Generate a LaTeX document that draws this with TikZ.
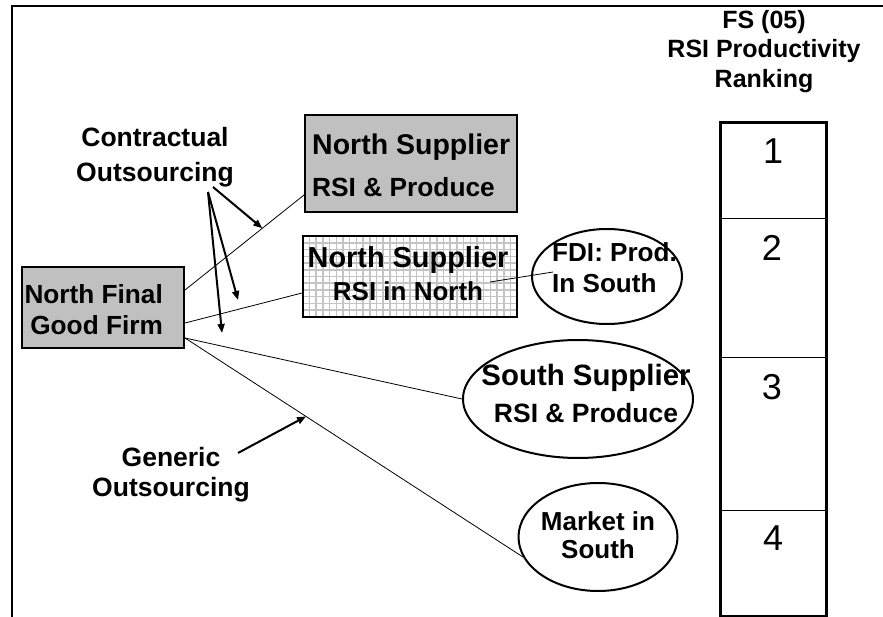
\documentclass[tikz,border=0pt]{standalone}
\usepackage{fontspec}
\setmainfont{Liberation Sans}
\usetikzlibrary{shapes.geometric,arrows.meta,calc}
\definecolor{boxgray}{RGB}{192,192,192}
\definecolor{gridgray}{RGB}{196,196,196}
\begin{document}
\begin{tikzpicture}[x=1pt,y=-1pt,
  frameline/.style={line width=2.6pt},
  conn/.style={line width=0.8pt},
  pointer/.style={line width=2pt,-{Triangle[length=9pt,width=7pt]}},
  graybox/.style={draw,line width=2pt,fill=boxgray,rectangle,inner sep=0pt},
  gridbox/.style={draw,line width=2pt,rectangle,inner sep=0pt,fill=white,
    path picture={\draw[gridgray,line width=1.5pt,step=6.7pt]
      (path picture bounding box.south west) grid (path picture bounding box.north east);}},
  oval/.style={draw,line width=2pt,ellipse,inner sep=0pt,fill=white},
  cell/.style={draw,line width=1pt,rectangle,inner sep=0pt,minimum width=105pt},
  lbl/.style={inner sep=0pt,font=\bfseries},
  num/.style={inner sep=0pt,font=\fontsize{36}{40}\selectfont},
]
\useasboundingbox (0,0) rectangle (883,617);

% frame
\draw[frameline] (12,617) -- (12,6) -- (883,6);

% shapes
\node[graybox,minimum width=162pt,minimum height=81pt] (nf) at (103,307.5) {};
\node[graybox,minimum width=212pt,minimum height=97pt] (ns1) at (411,163.5) {};
\node[gridbox,minimum width=214pt,minimum height=81pt] (ns2) at (410,276.5) {};
\node[oval,minimum width=150pt,minimum height=95pt] (fdi) at (607,276.5) {};
\node[oval,minimum width=230pt,minimum height=118pt] (ss) at (578,399) {};
\node[oval,minimum width=159pt,minimum height=108pt] (ms) at (598,537) {};

% ranking column
\node[cell,minimum height=96pt] (c1) at (773.5,171) {};
\node[cell,minimum height=138pt] (c2) at (773.5,288) {};
\node[cell,minimum height=153pt] (c3) at (773.5,433.5) {};
\node[cell,minimum height=106pt] (c4) at (773.5,563) {};
\draw[line width=2.4pt] (c1.north west) rectangle (c4.south east);

% connectors
\draw[conn] ([yshift=17.5pt]nf.east) -- ([yshift=-31.5pt]ns1.west) coordinate[pos=0.65] (p1);
\draw[conn] ([yshift=-15.5pt]nf.east) -- ([yshift=-16.5pt]ns2.west);
\draw[conn] ([yshift=-30.5pt]nf.east) -- (ss.west);
\draw[conn] ([yshift=-30.5pt]nf.east) -- (ms.195) coordinate[pos=0.358] (p4);
\draw[conn] ([shift={(-28,5.5)}]ns2.east) -- ([shift={(-54,-4.5)}]fdi.center);

% text
\node[lbl,align=center,font=\bfseries\fontsize{26.5}{35}\selectfont] (co) at (155,157.6) {Contractual\\Outsourcing};
\node[lbl,align=center,font=\bfseries\fontsize{26.5}{30}\selectfont] (go) at (171,475) {Generic\\Outsourcing};
\node[lbl,align=right,anchor=east,font=\bfseries\fontsize{26.2}{31}\selectfont] (tnf) at (163,310) {North Final\\Good Firm};
\node[lbl,align=left,anchor=west,font=\bfseries\fontsize{26.3}{42}\selectfont] (tns1) at (312,165.8) {{\fontsize{28.5}{30}\selectfont North Supplier}\\RSI \& Produce};
\node[lbl,align=center,font=\bfseries\fontsize{26}{33}\selectfont] (tns2) at (408,273.2) {{\fontsize{28.9}{30}\selectfont North Supplier}\\RSI in North};
\node[lbl,align=left,anchor=west,font=\bfseries\fontsize{26.1}{31}\selectfont] (tfdi) at (552,268) {FDI: Prod.\\In South};
\node[lbl,align=center,font=\bfseries\fontsize{26.5}{37}\selectfont] (tss) at (586,393) {{\fontsize{29.4}{30}\selectfont South Supplier}\\RSI \& Produce};
\node[lbl,align=center,font=\bfseries\fontsize{26}{28}\selectfont] (tms) at (598,535.7) {Market in\\South};
\node[lbl,align=center,font=\bfseries\fontsize{25}{29.5}\selectfont] (title) at (764,51.5) {FS (05)\\RSI Productivity\\Ranking};

\node[num] (n1) at (773,151.5) {1};
\node[num] (n2) at (772,248) {2};
\node[num] (n3) at (772,387) {3};
\node[num] (n4) at (773,538) {4};

% pointers
\coordinate (cs1) at (213,187);
\coordinate (cs2) at (208,192);
\coordinate (e2) at (238,300);
\coordinate (e3) at (222,333);
\coordinate (gs) at (238,453);
\draw[pointer] (cs1) -- (p1);
\draw[pointer] (cs2) -- (e2);
\draw[pointer] (cs2) -- (e3);
\draw[pointer] (gs) -- (p4);
\end{tikzpicture}
\end{document}
